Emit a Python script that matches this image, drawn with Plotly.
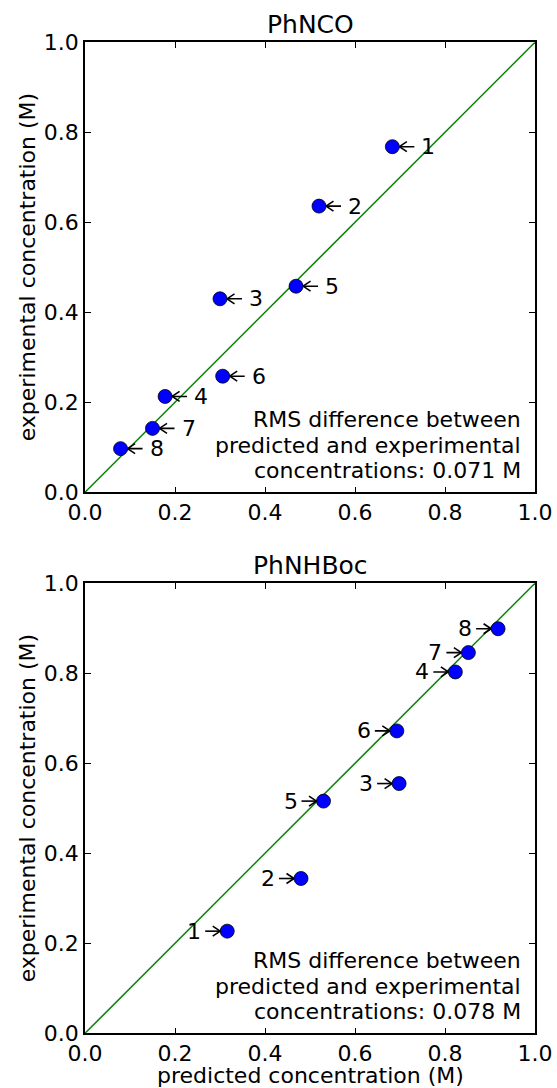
import plotly.graph_objects as go

# Compound numbers and predicted / experimental concentrations (M)
compounds = ["1", "2", "3", "4", "5", "6", "7", "8"]
phnco_predicted = [0.683, 0.520, 0.300, 0.178, 0.469, 0.306, 0.150, 0.079]
phnco_experimental = [0.768, 0.636, 0.430, 0.213, 0.458, 0.258, 0.142, 0.097]
phnhboc_predicted = [0.316, 0.480, 0.698, 0.823, 0.530, 0.693, 0.852, 0.918]
phnhboc_experimental = [0.227, 0.344, 0.555, 0.803, 0.516, 0.672, 0.846, 0.899]

panel_titles = ["PhNCO", "PhNHBoc"]
rms_values = ["0.071", "0.078"]
tick_values = [0.0, 0.2, 0.4, 0.6, 0.8, 1.0]
tick_labels = ["0.0", "0.2", "0.4", "0.6", "0.8", "1.0"]

W, H = 557, 1088
FONT = "DejaVu Sans"
AX_LEFT, AX_RIGHT = 85, 535
PLOT_PX = AX_RIGHT - AX_LEFT
PX = 1.0 / PLOT_PX  # one pixel in data units (axes span 0..1)

panels = [
    dict(top=42.3, pred=phnco_predicted, exp=phnco_experimental, side=1),
    dict(top=583.3, pred=phnhboc_predicted, exp=phnhboc_experimental, side=-1),
]

fig = go.Figure()
layout_axes = {}
annotations = []

for i, p in enumerate(panels):
    n = "" if i == 0 else str(i + 1)
    xa, ya = "x" + n, "y" + n
    top, bottom = p["top"], p["top"] + PLOT_PX
    common = dict(
        range=[0, 1], tickvals=tick_values, ticktext=tick_labels,
        ticks="inside", ticklen=6, tickwidth=1, tickcolor="black",
        showline=True, linecolor="black", linewidth=1.5, mirror="allticks",
        showgrid=False, zeroline=False, automargin=False,
        tickfont=dict(family=FONT, size=22, color="black"),
    )
    layout_axes["xaxis" + n] = dict(domain=[AX_LEFT / W, AX_RIGHT / W], anchor=ya, **common)
    layout_axes["yaxis" + n] = dict(domain=[1 - bottom / H, 1 - top / H], anchor=xa, **common)

    # y = x reference line
    fig.add_trace(go.Scatter(
        x=[0, 1], y=[0, 1], mode="lines", xaxis=xa, yaxis=ya,
        line=dict(color="#008000", width=1.5), showlegend=False, hoverinfo="skip",
    ))
    # data points
    fig.add_trace(go.Scatter(
        x=p["pred"], y=p["exp"], mode="markers", xaxis=xa, yaxis=ya,
        marker=dict(size=14, color="#0000ff", line=dict(color="black", width=0.8)),
        showlegend=False, text=compounds,
    ))

    # open "->" arrows from each number label to its point
    s = p["side"]
    ax_pts, ay_pts = [], []
    for xv, yv in zip(p["pred"], p["exp"]):
        tip = xv + s * 7 * PX
        tail = xv + s * 22 * PX
        ax_pts += [tail, tip, None]
        ay_pts += [yv, yv, None]
        for dy in (5, -5):
            ax_pts += [tip, tip + s * 7.5 * PX, None]
            ay_pts += [yv, yv + dy * PX, None]
    fig.add_trace(go.Scatter(
        x=ax_pts, y=ay_pts, mode="lines", xaxis=xa, yaxis=ya,
        line=dict(color="black", width=1.6), showlegend=False, hoverinfo="skip",
    ))

    for lab, xv, yv in zip(compounds, p["pred"], p["exp"]):
        annotations.append(dict(
            x=xv, y=yv, xref=xa, yref=ya, text=lab, showarrow=False,
            xanchor="left" if s > 0 else "right", yanchor="middle",
            xshift=27 if s > 0 else -24,
            font=dict(family=FONT, size=22, color="black"),
        ))

    # panel title
    annotations.append(dict(
        x=0.5, y=1, xref=xa + " domain", yref=ya + " domain",
        text=panel_titles[i], showarrow=False, xanchor="center", yanchor="middle",
        yshift=18, font=dict(family=FONT, size=25, color="black"),
    ))

    # RMS note
    rms_lines = ["RMS difference between", "predicted and experimental",
                 "concentrations: %s M" % rms_values[i]]
    for k, line in enumerate(rms_lines):
        annotations.append(dict(
            x=0.973, y=0.161 - k * 0.0567, xref=xa + " domain", yref=ya + " domain",
            text=line, showarrow=False, xanchor="right", yanchor="middle",
            font=dict(family=FONT, size=22, color="black"),
        ))

    # y-axis title
    annotations.append(dict(
        x=27 / W, y=1 - (top + PLOT_PX / 2) / H, xref="paper", yref="paper",
        text="experimental concentration (M)", textangle=-90, showarrow=False,
        xanchor="center", yanchor="middle",
        font=dict(family=FONT, size=22, color="black"),
    ))

# x-axis title on the lower panel
annotations.append(dict(
    x=(AX_LEFT + PLOT_PX / 2) / W, y=1 - 1075 / H, xref="paper", yref="paper",
    text="predicted concentration (M)", showarrow=False,
    xanchor="center", yanchor="middle",
    font=dict(family=FONT, size=22, color="black"),
))

fig.update_layout(
    width=W, height=H, margin=dict(l=0, r=0, t=0, b=0, autoexpand=False),
    paper_bgcolor="white", plot_bgcolor="white",
    annotations=annotations, **layout_axes,
)

fig.write_html("out.html")
